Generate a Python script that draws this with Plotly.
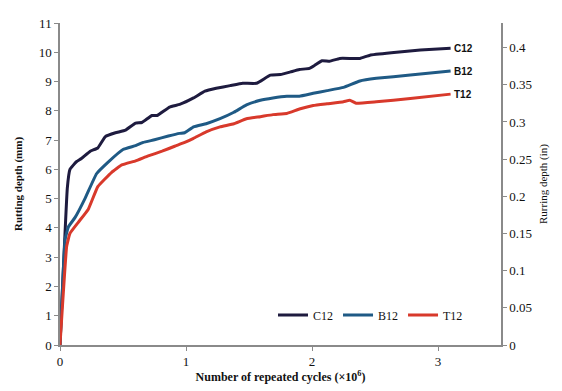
import plotly.graph_objects as go

# Data (x in millions of cycles, rutting depth in mm)
c12_x = [0, 0.058, 0.079, 0.13, 0.17, 0.24, 0.30, 0.36, 0.44, 0.52, 0.60, 0.65, 0.73, 0.77, 0.87, 0.95, 1.06, 1.15, 1.24, 1.35, 1.45, 1.56, 1.67, 1.75, 1.83, 1.90, 1.98, 2.02, 2.08, 2.14, 2.22, 2.38, 2.46, 2.65, 2.86, 3.10]
c12_y = [0, 5.36, 6.0, 6.26, 6.37, 6.62, 6.73, 7.12, 7.25, 7.34, 7.58, 7.6, 7.84, 7.84, 8.13, 8.22, 8.44, 8.67, 8.77, 8.86, 8.94, 8.94, 9.22, 9.24, 9.33, 9.41, 9.45, 9.55, 9.71, 9.69, 9.79, 9.79, 9.9, 9.99, 10.08, 10.14]

b12_x = [0, 0.04, 0.066, 0.12, 0.20, 0.29, 0.38, 0.50, 0.60, 0.66, 0.75, 0.86, 0.95, 0.99, 1.06, 1.16, 1.27, 1.38, 1.48, 1.59, 1.69, 1.80, 1.90, 2.01, 2.12, 2.25, 2.38, 2.51, 2.78, 3.10]
b12_y = [0, 3.59, 4.03, 4.36, 5.02, 5.85, 6.24, 6.68, 6.81, 6.92, 7.01, 7.14, 7.23, 7.25, 7.45, 7.56, 7.73, 7.95, 8.2, 8.36, 8.44, 8.5, 8.5, 8.6, 8.69, 8.8, 9.02, 9.11, 9.22, 9.36]

t12_x = [0, 0.053, 0.079, 0.145, 0.225, 0.30, 0.41, 0.49, 0.60, 0.70, 0.81, 0.91, 0.99, 1.06, 1.16, 1.27, 1.38, 1.48, 1.59, 1.69, 1.80, 1.90, 2.01, 2.12, 2.25, 2.30, 2.35, 2.51, 2.78, 3.10]
t12_y = [0, 3.37, 3.81, 4.19, 4.64, 5.41, 5.9, 6.15, 6.29, 6.46, 6.62, 6.79, 6.92, 7.06, 7.28, 7.45, 7.56, 7.73, 7.8, 7.87, 7.91, 8.06, 8.18, 8.24, 8.31, 8.36, 8.26, 8.31, 8.42, 8.57]

series = [
    ("C12", c12_x, c12_y, "#1e1b3f"),
    ("B12", b12_x, b12_y, "#1f5a85"),
    ("T12", t12_x, t12_y, "#d8392b"),
]

MM_PER_IN = 25.4
x_ticks = [0, 1, 2, 3]
y_ticks = list(range(0, 12))
y2_ticks = [0, 0.05, 0.1, 0.15, 0.2, 0.25, 0.3, 0.35, 0.4]
y2_labels = ["0", "0.05", "0.1", "0.15", "0.2", "0.25", "0.3", "0.35", "0.4"]

serif = "Liberation Serif, Times New Roman, serif"
sans = "Liberation Sans, Arial, sans-serif"

fig = go.Figure()
for name, xs, ys, col in series:
    fig.add_trace(go.Scatter(x=xs, y=ys, mode="lines", name=name,
                             line=dict(color=col, width=3, shape="spline", smoothing=0.3)))
    fig.add_annotation(x=xs[-1], y=ys[-1], text="<b>%s</b>" % name, showarrow=False,
                       xanchor="left", xshift=1, font=dict(family=sans, size=10, color="#111"))

# invisible trace on the inch axis
fig.add_trace(go.Scatter(x=c12_x, y=[v / MM_PER_IN for v in c12_y], yaxis="y2",
                         mode="lines", line=dict(width=0), opacity=0,
                         showlegend=False, hoverinfo="skip"))

axis_common = dict(showgrid=False, zeroline=False, showline=True, linecolor="#8a8a8a",
                   linewidth=1.5, ticks="outside", ticklen=4, tickcolor="#8a8a8a",
                   tickfont=dict(family=serif, size=13, color="#111"))

fig.update_layout(
    width=554, height=383,
    margin=dict(l=52, r=61, t=8, b=46),
    paper_bgcolor="white", plot_bgcolor="white",
    xaxis=dict(range=[0, 3.5], tickvals=x_ticks,
               title=dict(text="<b>Number of repeated cycles (×10<sup>6</sup>)</b>",
                          font=dict(family=serif, size=12, color="#111"), standoff=2),
               **axis_common),
    yaxis=dict(range=[0, 11], tickvals=y_ticks,
               title=dict(text="<b>Rutting depth (mm)</b>",
                          font=dict(family=serif, size=11, color="#111"), standoff=14),
               **axis_common),
    yaxis2=dict(range=[0, 11 / MM_PER_IN], tickvals=y2_ticks, ticktext=y2_labels,
                overlaying="y", side="right",
                title=dict(text="Rurring depth (in)",
                           font=dict(family=serif, size=11, color="#111"), standoff=8),
                **axis_common),
    legend=dict(orientation="h", x=0.483, y=0.093, xanchor="left", yanchor="middle",
                font=dict(family=serif, size=12, color="#111"), itemwidth=30,
                bgcolor="rgba(0,0,0,0)"),
    showlegend=True,
)

fig.write_html("out.html")
